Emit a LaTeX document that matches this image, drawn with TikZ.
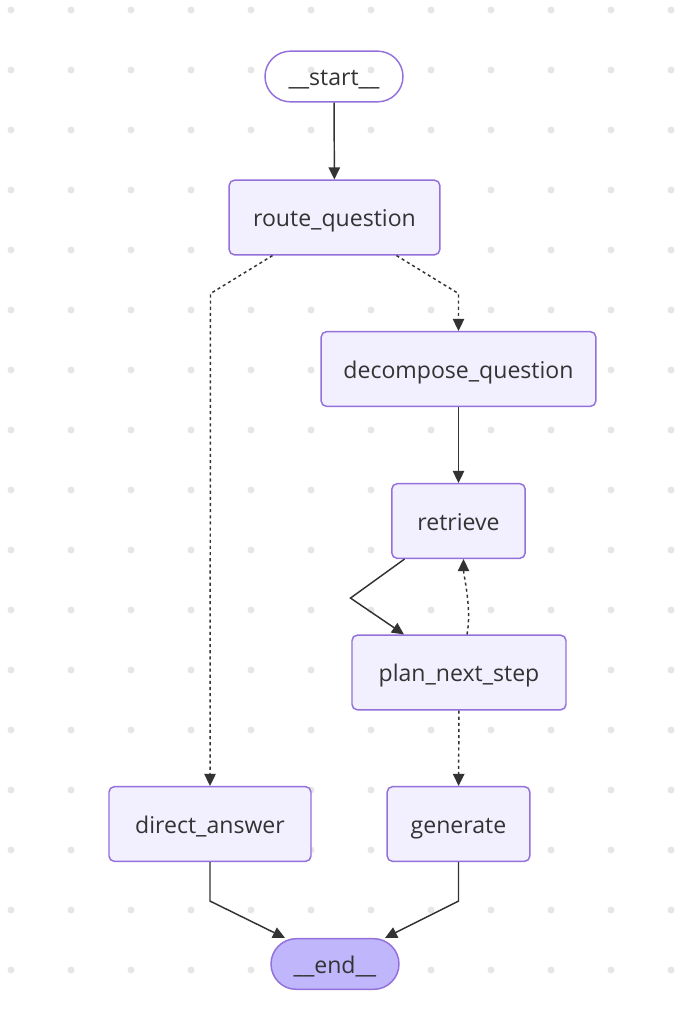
\documentclass[tikz,border=0pt]{standalone}
\usepackage{fontspec}
\setmainfont{Open Sans}
\usetikzlibrary{arrows.meta,calc}

\definecolor{nodefill}{HTML}{F2F0FF}
\definecolor{nodeline}{HTML}{9370DB}
\definecolor{endfill}{HTML}{BFB6FC}
\definecolor{ink}{HTML}{333333}
\definecolor{dotgray}{HTML}{E6E6E6}

\tikzset{
  stepbox/.style={draw=nodeline, fill=nodefill, line width=1.1pt, rounded corners=4pt,
    text=ink, inner sep=0pt, minimum height=56pt, text height=16pt, text depth=2.5pt,
    font=\fontsize{17.3}{20}\selectfont},
  terminal/.style={stepbox, rounded corners=19pt, minimum height=38pt},
  edge/.style={draw=ink, line width=1.1pt, -{Triangle[length=9pt,width=8.5pt]}},
  cond/.style={edge, dash pattern=on 2.3pt off 2.3pt},
}

\begin{document}
\begin{tikzpicture}[x=0.75pt, y=-0.75pt]
    \useasboundingbox (0,0) rectangle (700,1018);
    \fill[white] (0,0) rectangle (700,1018);
    % background dots
    \foreach \i in {0,...,11}
        \foreach \j in {0,...,16}
            \fill[dotgray] (11+60*\i,10+60*\j) circle (3.5);

    \node[terminal, fill=none, minimum width=103.5pt] (start) at (334,76.5) {\_\_start\_\_};
    \node[stepbox, minimum width=158pt] (route) at (334.5,217.5) {route\_question};
    \node[stepbox, minimum width=206pt] (decompose) at (458.5,369) {decompose\_question};
    \node[stepbox, minimum width=100pt] (retrieve) at (458.5,521) {retrieve};
    \node[stepbox, minimum width=160.5pt] (plan) at (459,672.5) {plan\_next\_step};
    \node[stepbox, minimum width=151.5pt] (direct) at (210,824) {direct\_answer};
    \node[stepbox, minimum width=107pt] (generate) at (458.5,824) {generate};
    \node[terminal, fill=endfill, minimum width=96pt] (end) at (335,964) {\_\_end\_\_};

    \draw[edge] (start) -- (route);
    \draw[cond] ($(route.south)+(-62,0)$) -- ++(-62,38) -- (direct.north);
    \draw[cond] ($(route.south)+(62,0)$) -- ++(62,38) -- (decompose.north);
    \draw[edge] (decompose) -- (retrieve);
    \draw[edge] ($(retrieve.south)+(-54,0)$) -- ++(-54,39) -- ($(plan.north)+(-55,0)$);
    \draw[cond] ($(plan.north)+(8,0)$) .. controls ++(5,-25) and ++(0,15) .. ($(retrieve.south)+(5,0)$);
    \draw[cond] (plan) -- (generate);
    \draw[edge] (direct.south) -- ++(0,39) -- ($(end.north)+(-50,0)$);
    \draw[edge] (generate.south) -- ++(0,39) -- ($(end.north)+(50,0)$);
\end{tikzpicture}
\end{document}
